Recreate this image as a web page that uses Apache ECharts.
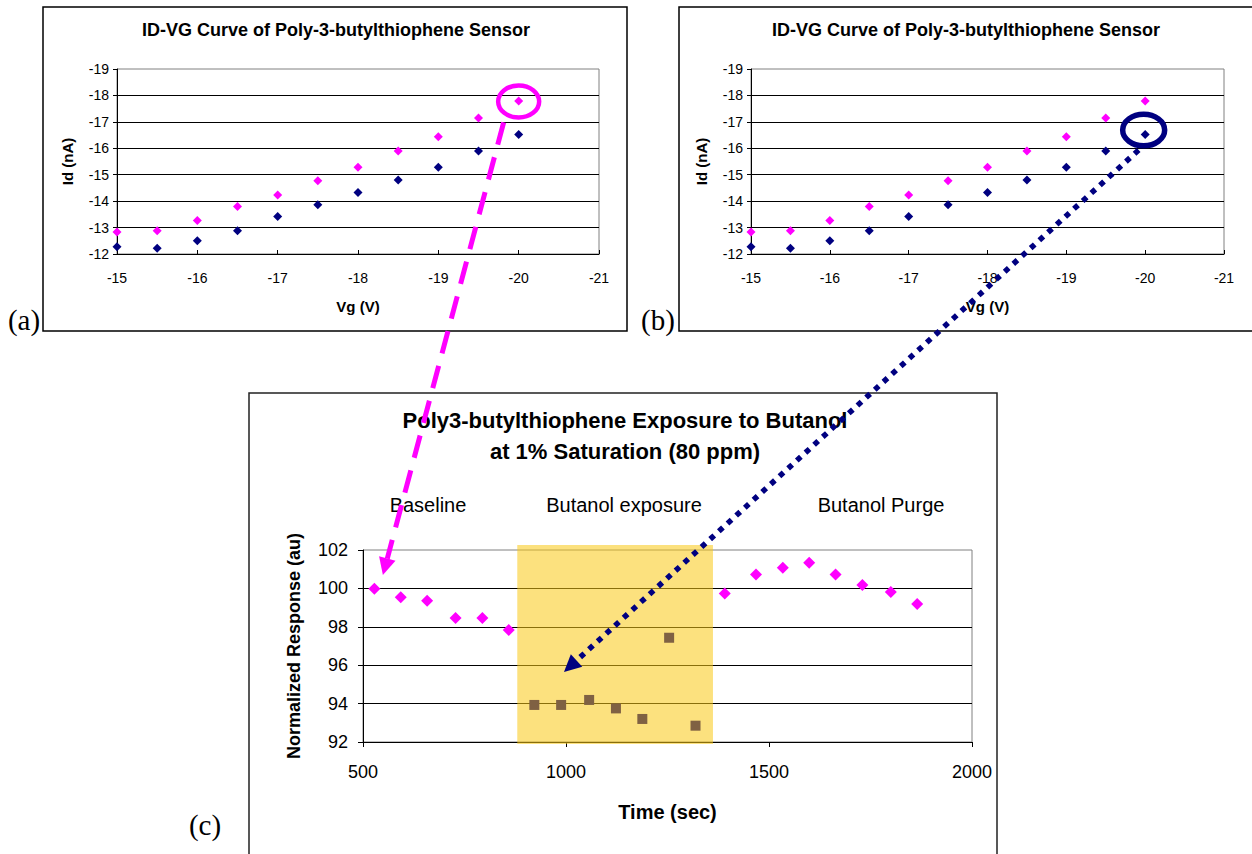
<!DOCTYPE html>
<html>
<head>
<meta charset="utf-8">
<script src="https://cdn.jsdelivr.net/npm/echarts@6/dist/echarts.min.js"></script>
<style>
html,body{margin:0;padding:0;background:#fff;}
#chart{width:1252px;height:854px;}
</style>
</head>
<body>
<div id="chart"></div>
<script>
// ---------- data ----------
const vg = [-15, -15.5, -16, -16.5, -17, -17.5, -18, -18.5, -19, -19.5, -20];
const idPink = [-12.83, -12.88, -13.27, -13.8, -14.23, -14.77, -15.28, -15.9, -16.44, -17.15, -17.79];
const idNavy = [-12.27, -12.22, -12.5, -12.88, -13.42, -13.86, -14.33, -14.8, -15.28, -15.9, -16.52];

const timeBase = [528, 593, 658, 728, 794, 859];
const respBase = [99.98, 99.54, 99.36, 98.46, 98.46, 97.83];
const timeExp = [922, 988, 1057, 1123, 1188, 1254, 1319];
const respExp = [93.93, 93.93, 94.19, 93.75, 93.2, 97.43, 92.85];
const timePurge = [1391, 1468, 1534, 1599, 1664, 1730, 1800, 1865];
const respPurge = [99.73, 100.73, 101.08, 101.34, 100.73, 100.18, 99.81, 99.19];
const exposureWindow = [880, 1362, 91.9, 102.26];

const phaseLabels = ['Baseline', 'Butanol exposure', 'Butanol Purge'];
const idvgTitle = 'ID-VG Curve of Poly-3-butylthiophene Sensor';
const expTitle = ['Poly3-butylthiophene Exposure to Butanol', 'at 1% Saturation (80 ppm)'];

// annotation anchors (data coordinates)
const pinkArrowTip = [549, 100.7];
const navyArrowTip = [995, 95.65];

// ---------- helpers ----------
const FONT = '"Liberation Sans", Arial, sans-serif';
const SERIF = '"Liberation Serif", "Times New Roman", serif';
const pair = (xs, ys) => xs.map((x, i) => [x, ys[i]]);
const plain = v => String(v);

function idvgAxes(gridIndex) {
  return {
    x: {
      type: 'value', gridIndex, min: -21, max: -15, interval: 1, inverse: true,
      axisLine: { show: true, onZero: false, lineStyle: { color: '#000', width: 1 } },
      axisTick: { show: true, inside: true, length: 4, lineStyle: { color: '#000' } },
      axisLabel: { color: '#000', fontSize: 14, fontFamily: FONT, margin: 17, formatter: plain },
      splitLine: { show: false },
      name: 'Vg (V)', nameLocation: 'middle', nameGap: 45,
      nameTextStyle: { color: '#000', fontSize: 15, fontWeight: 'bold', fontFamily: FONT }
    },
    y: {
      type: 'value', gridIndex, min: -19, max: -12, interval: 1, inverse: true,
      axisLine: { show: true, onZero: false, lineStyle: { color: '#000', width: 1 } },
      axisTick: { show: true, length: 4, lineStyle: { color: '#000' } },
      axisLabel: { color: '#000', fontSize: 14, fontFamily: FONT, margin: 8, formatter: plain },
      splitLine: { show: true, showMinLine: false, showMaxLine: false, lineStyle: { color: '#000', width: 1 } },
      name: 'Id (nA)', nameLocation: 'middle', nameGap: 42, nameRotate: 90,
      nameTextStyle: { color: '#000', fontSize: 15, fontWeight: 'bold', fontFamily: FONT }
    }
  };
}
const axA = idvgAxes(0), axB = idvgAxes(1);

const chart = echarts.init(document.getElementById('chart'), null, { renderer: 'svg' });

const option = {
  animation: false,
  backgroundColor: '#fff',
  grid: [
    { left: 117, right: 653, top: 69, bottom: 600, show: true, borderColor: '#808080', borderWidth: 1, backgroundColor: 'transparent' },
    { left: 751, right: 28, top: 69, bottom: 600, show: true, borderColor: '#808080', borderWidth: 1, backgroundColor: 'transparent' },
    { left: 363, right: 280, top: 550, bottom: 112, show: true, borderColor: '#808080', borderWidth: 1, backgroundColor: 'transparent' }
  ],
  xAxis: [axA.x, axB.x, {
    type: 'value', gridIndex: 2, min: 500, max: 2000, interval: 500,
    axisLine: { show: true, onZero: false, lineStyle: { color: '#000', width: 1 } },
    axisTick: { show: true, length: 5, lineStyle: { color: '#000' } },
    axisLabel: { color: '#000', fontSize: 18, fontFamily: FONT, margin: 21, formatter: plain },
    splitLine: { show: false },
    name: 'Time (sec)', nameLocation: 'middle', nameGap: 60,
    nameTextStyle: { color: '#000', fontSize: 20, fontWeight: 'bold', fontFamily: FONT }
  }],
  yAxis: [axA.y, axB.y, {
    type: 'value', gridIndex: 2, min: 92, max: 102, interval: 2,
    axisLine: { show: true, onZero: false, lineStyle: { color: '#000', width: 1 } },
    axisTick: { show: true, length: 5, lineStyle: { color: '#000' } },
    axisLabel: { color: '#000', fontSize: 18, fontFamily: FONT, margin: 15, formatter: plain },
    splitLine: { show: true, showMinLine: false, showMaxLine: false, lineStyle: { color: '#000', width: 1 } },
    name: 'Normalized Response (au)', nameLocation: 'middle', nameGap: 60, nameRotate: 90,
    nameTextStyle: { color: '#000', fontSize: 18, fontWeight: 'bold', fontFamily: FONT }
  }],
  series: [
    { type: 'scatter', xAxisIndex: 0, yAxisIndex: 0, symbol: 'diamond', symbolSize: 9, itemStyle: { color: '#FF00FF', opacity: 1 }, data: pair(vg, idPink), z: 3 },
    { type: 'scatter', xAxisIndex: 0, yAxisIndex: 0, symbol: 'diamond', symbolSize: 9, itemStyle: { color: '#000080', opacity: 1 }, data: pair(vg, idNavy), z: 3 },
    { type: 'scatter', xAxisIndex: 1, yAxisIndex: 1, symbol: 'diamond', symbolSize: 9, itemStyle: { color: '#FF00FF', opacity: 1 }, data: pair(vg, idPink), z: 3 },
    { type: 'scatter', xAxisIndex: 1, yAxisIndex: 1, symbol: 'diamond', symbolSize: 9, itemStyle: { color: '#000080', opacity: 1 }, data: pair(vg, idNavy), z: 3 },
    {
      type: 'custom', xAxisIndex: 2, yAxisIndex: 2, clip: false, z: 1, silent: true,
      data: [exposureWindow],
      renderItem: function (params, api) {
        const p0 = api.coord([api.value(0), api.value(3)]);
        const p1 = api.coord([api.value(1), api.value(2)]);
        return { type: 'rect', shape: { x: p0[0], y: p0[1], width: p1[0] - p0[0], height: p1[1] - p0[1] },
                 style: { fill: 'rgba(249,200,20,0.55)' } };
      }
    },
    { type: 'scatter', xAxisIndex: 2, yAxisIndex: 2, symbol: 'diamond', symbolSize: 12, itemStyle: { color: '#FF00FF', opacity: 1 }, data: pair(timeBase, respBase), z: 3 },
    { type: 'scatter', xAxisIndex: 2, yAxisIndex: 2, symbol: 'rect', symbolSize: 10, itemStyle: { color: '#7f6143', opacity: 1 }, data: pair(timeExp, respExp), z: 3 },
    { type: 'scatter', xAxisIndex: 2, yAxisIndex: 2, symbol: 'diamond', symbolSize: 12, itemStyle: { color: '#FF00FF', opacity: 1 }, data: pair(timePurge, respPurge), z: 3 }
  ]
};
chart.setOption(option);

// ---------- frames, titles, annotations ----------
function txt(x, y, text, size, weight, family, extra) {
  return Object.assign({ type: 'text', x, y, z: 50,
    style: { text, fontSize: size, fontWeight: weight || 'normal', fontFamily: family || FONT, fill: '#000', align: 'center', verticalAlign: 'middle' } }, extra || {});
}
function arrow(start, tip, len, halfW, color) {
  const dx = tip[0] - start[0], dy = tip[1] - start[1];
  const d = Math.hypot(dx, dy), ux = dx / d, uy = dy / d;
  const bx = tip[0] - ux * len, by = tip[1] - uy * len;
  const nx = -uy, ny = ux;
  return { base: [bx, by], head: { type: 'polygon', z: 101, shape: { points: [tip, [bx + nx * halfW, by + ny * halfW], [bx - nx * halfW, by - ny * halfW]] }, style: { fill: color } } };
}

const pinkPt = chart.convertToPixel({ gridIndex: 0 }, [vg[10], idPink[10]]);
const navyPt = chart.convertToPixel({ gridIndex: 1 }, [vg[10], idNavy[10]]);
const pinkTip = chart.convertToPixel({ gridIndex: 2 }, pinkArrowTip);
const navyTip = chart.convertToPixel({ gridIndex: 2 }, navyArrowTip);

const pinkCenter = [pinkPt[0], pinkPt[1] + 0.5];
const navyCenter = [navyPt[0] - 1.5, navyPt[1] - 4.5];
const pinkStart = [pinkCenter[0] - 15, pinkCenter[1] + 21];
const navyStart = [navyCenter[0] - 5, navyCenter[1] + 20];

const pa = arrow(pinkStart, pinkTip, 17, 8.5, '#FF00FF');
const na = arrow(navyStart, navyTip, 17, 8.5, '#000080');

const graphics = [
  // panel frames
  { type: 'rect', z: 40, shape: { x: 43, y: 7, width: 584, height: 324 }, style: { fill: 'none', stroke: '#000', lineWidth: 1.5 } },
  { type: 'rect', z: 40, shape: { x: 679, y: 7, width: 600, height: 324 }, style: { fill: 'none', stroke: '#000', lineWidth: 1.5 } },
  { type: 'rect', z: 40, shape: { x: 249, y: 393, width: 748, height: 500 }, style: { fill: 'none', stroke: '#222', lineWidth: 1.5 } },
  // titles
  txt(336, 30, idvgTitle, 18, 'bold'),
  txt(966, 30, idvgTitle, 18, 'bold'),
  txt(625, 420, expTitle[0], 22, 'bold'),
  txt(625, 451, expTitle[1], 22, 'bold'),
  // phase labels
  txt(428, 505, phaseLabels[0], 20),
  txt(624, 505, phaseLabels[1], 20),
  txt(881, 505, phaseLabels[2], 20),
  // panel letters
  txt(24, 320, '(a)', 29, 'normal', SERIF),
  txt(658, 320, '(b)', 29, 'normal', SERIF),
  txt(205, 825, '(c)', 29, 'normal', SERIF),
  // ellipses
  { type: 'ellipse', z: 100, shape: { cx: pinkCenter[0], cy: pinkCenter[1], rx: 20.5, ry: 16 }, style: { fill: 'none', stroke: '#FF00FF', lineWidth: 4.5 } },
  { type: 'ellipse', z: 100, shape: { cx: navyCenter[0], cy: navyCenter[1], rx: 21, ry: 15.8 }, style: { fill: 'none', stroke: '#000080', lineWidth: 5.5 } },
  // arrows
  { type: 'line', z: 100, shape: { x1: pinkStart[0], y1: pinkStart[1], x2: pa.base[0], y2: pa.base[1] }, style: { stroke: '#FF00FF', lineWidth: 5, lineDash: [23, 13], lineCap: 'butt' } },
  pa.head,
  { type: 'line', z: 100, shape: { x1: navyStart[0], y1: navyStart[1], x2: na.base[0], y2: na.base[1] }, style: { stroke: '#000080', lineWidth: 5.5, lineDash: [5.5, 6.2], lineCap: 'butt' } },
  na.head
];
chart.setOption({ graphic: graphics });
</script>
</body>
</html>
